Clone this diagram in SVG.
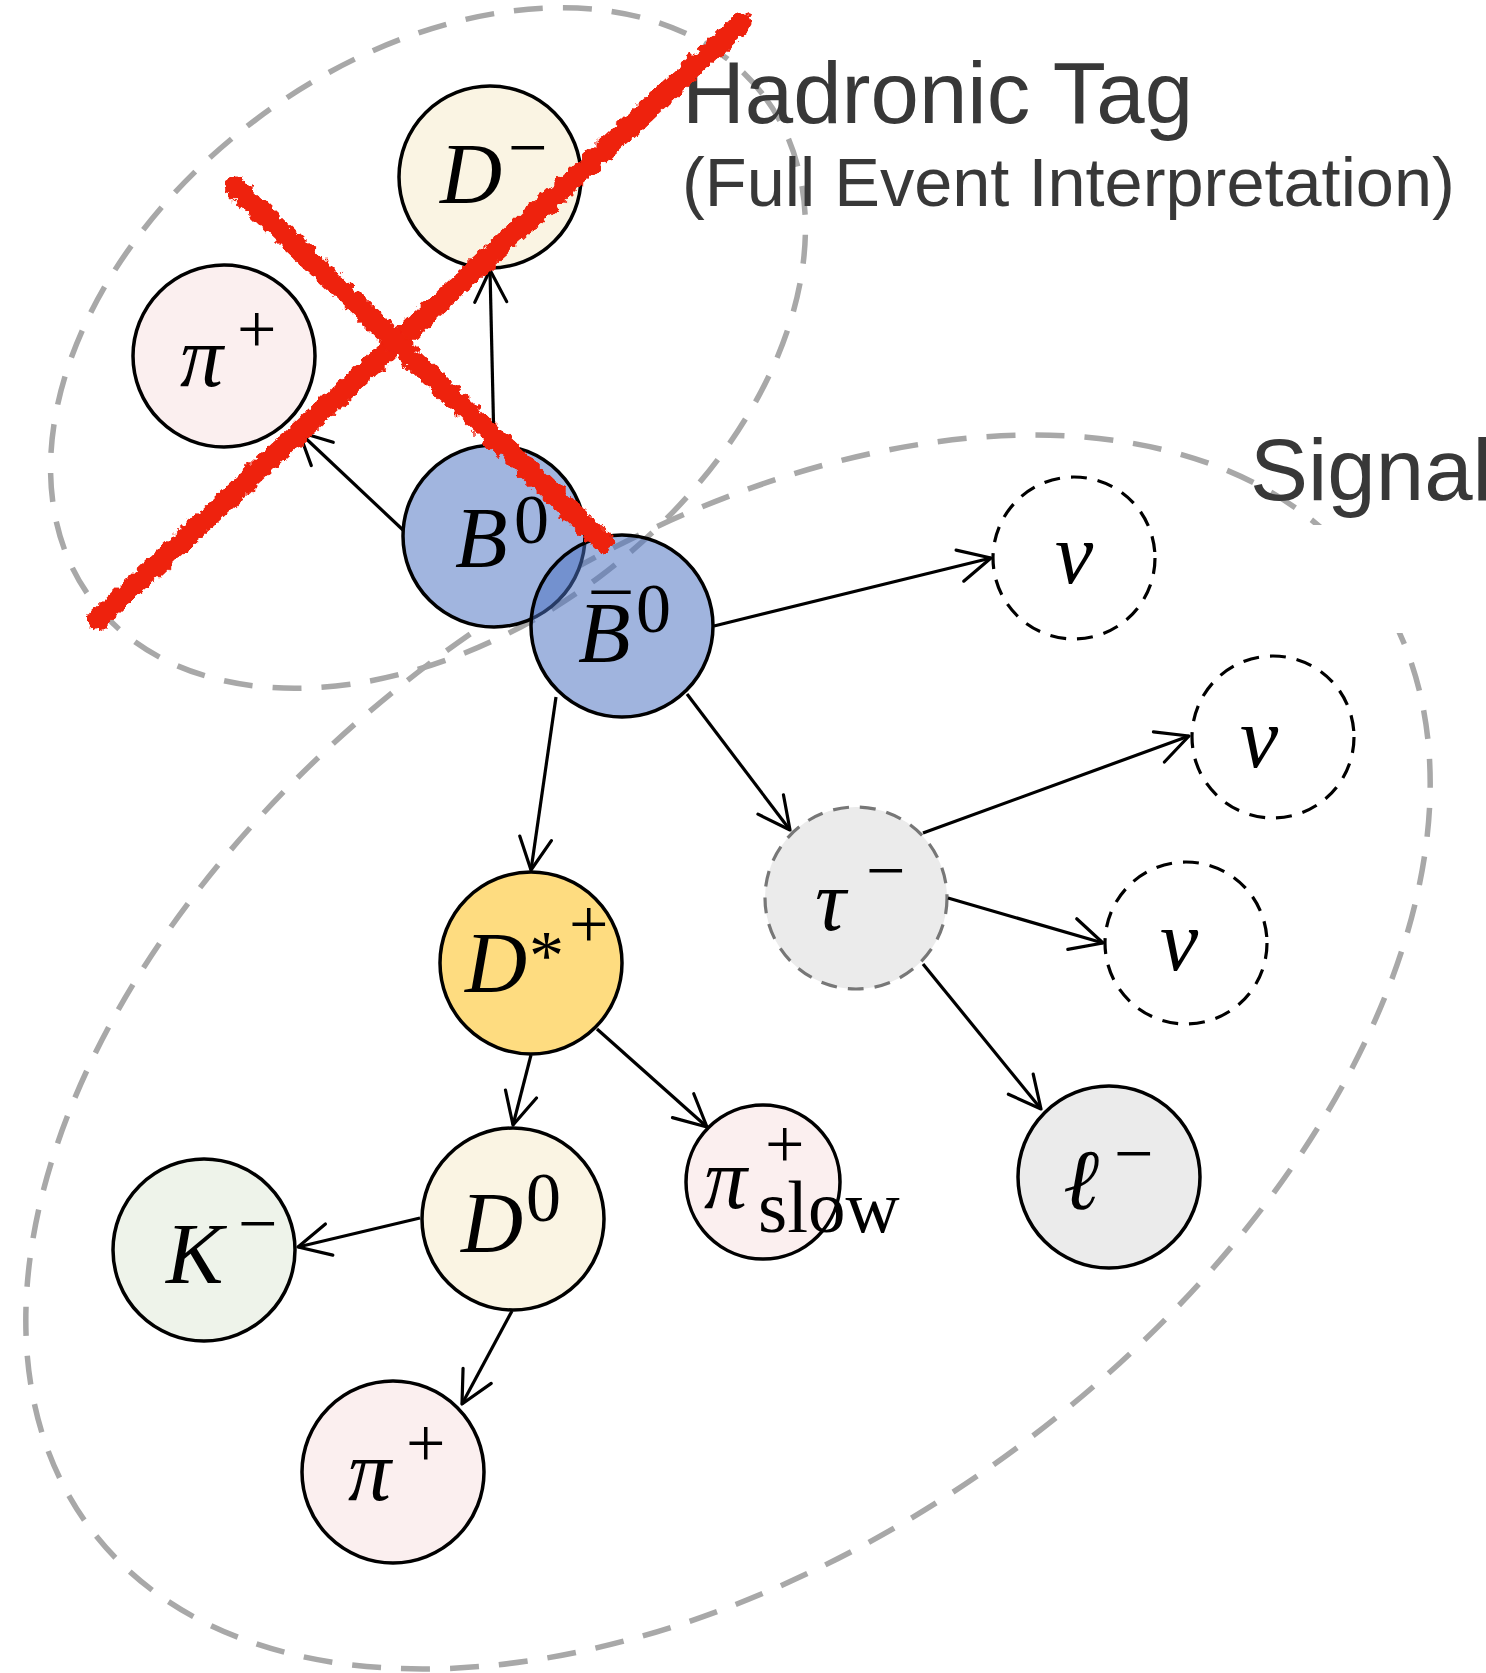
<svg xmlns="http://www.w3.org/2000/svg" width="1486" height="1673" viewBox="0 0 1486 1673">
<style>
.grp{fill:none;stroke:#A8A8A8;stroke-width:5.5;stroke-dasharray:29 20}
.n{stroke:#000;stroke-width:3.5}
.nu{fill:#fff;stroke:#000;stroke-width:3.2;stroke-dasharray:16 11}
.e{fill:none;stroke:#000;stroke-width:3.2;marker-end:url(#arr)}
.m{font-family:"Liberation Serif","Times New Roman",serif;font-style:italic;font-size:86px;fill:#000}
.s{font-family:"Liberation Serif","Times New Roman",serif;font-style:normal;font-size:70px;fill:#000}
.lab{font-family:"Liberation Sans",Arial,sans-serif;fill:#383838}
.x{fill:none;stroke:#EE2211;stroke-width:21;stroke-linecap:round}
</style>
<defs>
<marker id="arr" markerUnits="userSpaceOnUse" markerWidth="44" markerHeight="44" viewBox="-38 -22 44 44" refX="0" refY="0" orient="auto">
<path d="M-32,-16 L0,0 L-32,16" fill="none" stroke="#000" stroke-width="3.2" stroke-linejoin="round" stroke-linecap="round"/>
</marker>
<filter id="rough" filterUnits="userSpaceOnUse" x="0" y="0" width="900" height="700">
<feTurbulence type="fractalNoise" baseFrequency="0.12" numOctaves="3" seed="7"/>
<feDisplacementMap in="SourceGraphic" scale="11" xChannelSelector="R" yChannelSelector="G"/>
</filter>
</defs>
<rect width="1486" height="1673" fill="#fff"/>
<g id="groups">
<ellipse class="grp" cx="428" cy="348" rx="420" ry="286" transform="rotate(-36.8 428 348)"/>
<ellipse class="grp" cx="728" cy="1052" rx="796" ry="490" transform="rotate(-36.7 728 1052)"/>
<rect x="1290" y="525" width="196" height="108" fill="#fff"/>
</g>
<g id="labels">
<text class="lab" x="682" y="123" font-size="87">Hadronic Tag</text>
<text class="lab" x="682" y="206" font-size="68.5">(Full Event Interpretation)</text>
<text class="lab" x="1250" y="500" font-size="87">Signal</text>
</g>
<g id="node-Dminus"><circle class="n" cx="490" cy="177" r="91" fill="#FAF4E3"/><text class="m" x="440" y="203">D</text><text class="s" x="508" y="171">−</text></g>
<g id="node-piplus-tag"><circle class="n" cx="224" cy="356" r="91" fill="#FBEFEF"/><text class="m" x="180" y="386">π</text><text class="s" x="237" y="353">+</text></g>
<g id="node-B0"><circle class="n" cx="494" cy="536" r="91" fill="#A1B5DF"/><text class="m" x="455" y="567">B</text><text class="s" x="514" y="543">0</text></g>
<g id="node-B0bar"><circle cx="622" cy="626" r="91" fill="#4A70C0" fill-opacity="0.526" stroke="#000" stroke-width="3.5"/><text class="m" x="578" y="662">B</text><text class="s" x="592" y="648" style="font-size:76px">¯</text><text class="s" x="636" y="632">0</text></g>
<g id="node-nu1"><circle class="nu" cx="1074" cy="558" r="81"/><text class="m" x="1055" y="583">ν</text></g>
<g id="node-nu2"><circle class="nu" cx="1273" cy="737" r="81"/><text class="m" x="1240" y="767">ν</text></g>
<g id="node-nu3"><circle class="nu" cx="1186" cy="943" r="81"/><text class="m" x="1160" y="970">ν</text></g>
<g id="node-tau"><circle cx="856" cy="898" r="91" fill="#EBEBEB" stroke="#777" stroke-width="3.2" stroke-dasharray="16 11"/><text class="m" x="815" y="930">τ</text><text class="s" x="866" y="894">−</text></g>
<g id="node-lepton"><circle class="n" cx="1109" cy="1177" r="91" fill="#EBEBEB"/><text class="m" x="1063" y="1209">ℓ</text><text class="s" x="1114" y="1177">−</text></g>
<g id="node-pislow"><circle class="n" cx="763" cy="1182" r="77" fill="#FBEFEF"/><text class="m" x="704" y="1208">π</text><text class="s" x="765" y="1168">+</text><text class="s" x="758" y="1232" style="font-size:75px">slow</text></g>
<g id="node-Dstar"><circle class="n" cx="531" cy="963" r="91" fill="#FEDC80"/><text class="m" x="465" y="992">D</text><text class="s" x="529" y="979">*</text><text class="s" x="569" y="948">+</text></g>
<g id="node-D0"><circle class="n" cx="513" cy="1219" r="91" fill="#FAF4E3"/><text class="m" x="461" y="1252">D</text><text class="s" x="526" y="1221">0</text></g>
<g id="node-Kminus"><circle class="n" cx="204" cy="1250" r="91" fill="#EEF3EA"/><text class="m" x="166" y="1283">K</text><text class="s" x="238" y="1247">−</text></g>
<g id="node-piplus"><circle class="n" cx="393" cy="1472" r="91" fill="#FBEFEF"/><text class="m" x="348" y="1500">π</text><text class="s" x="406" y="1467">+</text></g>
<g id="connectors">
<line class="e" x1="494" y1="445" x2="490" y2="270"/>
<line class="e" x1="403" y1="530" x2="299" y2="432"/>
<line class="e" x1="714" y1="626" x2="991" y2="558"/>
<line class="e" x1="556" y1="697" x2="531" y2="870"/>
<line class="e" x1="687" y1="694" x2="790" y2="830"/>
<line class="e" x1="923" y1="833" x2="1189" y2="736"/>
<line class="e" x1="948" y1="898" x2="1103" y2="943"/>
<line class="e" x1="923" y1="964" x2="1041" y2="1109"/>
<line class="e" x1="531" y1="1055" x2="513" y2="1125"/>
<line class="e" x1="597" y1="1029" x2="707" y2="1127"/>
<line class="e" x1="420" y1="1218" x2="298" y2="1247"/>
<line class="e" x1="512" y1="1311" x2="462" y2="1404"/>
</g>
<g id="cross">
<line class="x" x1="97" y1="620" x2="742" y2="22" filter="url(#rough)"/>
<line class="x" x1="235" y1="187" x2="603" y2="542" filter="url(#rough)"/>
</g>
</svg>
